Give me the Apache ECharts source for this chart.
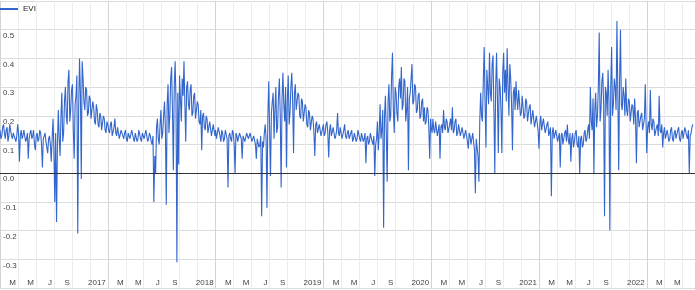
<!DOCTYPE html>
<html>
<head>
<meta charset="utf-8">
<script src="https://cdn.jsdelivr.net/npm/echarts@6/dist/echarts.min.js"></script>
<style>
html,body{margin:0;padding:0;background:#fff;}
#chart{width:695px;height:290px;}
</style>
</head>
<body>
<div id="chart"></div>
<script>
// EVI samples, one value every 3 days starting 1 January of each year
const seriesName = 'EVI';
const stepDays = 3;
const years = [2016, 2017, 2018, 2019, 2020, 2021, 2022];
const evi2016 = [
  0.15,0.12, 0.13,0.16, 0.17,0.14, 0.12,0.15, 0.16,0.11, 0.13,0.17, 0.15,0.13, 0.12,0.14, 0.14,0.12, 0.11,0.13,
  0.17,0.14, 0.04,0.13, 0.15,0.12, 0.13,0.15, 0.15,0.11, 0.12,0.14, 0.05,0.12, 0.14,0.15, 0.12,0.13, 0.15,0.10,
  0.08,0.13, 0.14,0.11, 0.12,0.15, 0.14,0.10, 0.02,0.12, 0.13,0.14, 0.11,0.09, 0.07,0.12, 0.13,0.10, 0.04,0.12,
  0.19,0.08, -0.10,0.14, -0.17,0.10, 0.22,0.12, 0.06,0.20, 0.28,0.11, 0.14,0.25, 0.30,0.20, 0.17,0.32, 0.36,0.18,
  0.22,0.29, 0.31,0.15, 0.05,0.24, 0.27,0.34, -0.21,0.22, 0.40,0.28, -0.02,0.39, 0.33,0.25, 0.22,0.30, 0.29,0.20,
  0.21,0.27, 0.26,0.19, 0.19,0.25, 0.23,0.18, 0.17,0.24, 0.22,0.17, 0.16,0.21, 0.20,0.15, 0.15,0.20, 0.19,0.15,
  0.14,0.18];
const evi2017 = [
  0.17,0.15, 0.14,0.17, 0.18,0.13, 0.13,0.16, 0.19,0.14, 0.13,0.16, 0.16,0.12, 0.12,0.15, 0.15,0.13, 0.12,0.14,
  0.15,0.12, 0.11,0.14, 0.14,0.12, 0.12,0.15, 0.15,0.12, 0.11,0.14, 0.14,0.11, 0.12,0.15, 0.15,0.12, 0.11,0.14,
  0.14,0.12, 0.12,0.15, 0.15,0.11, 0.12,0.14, 0.13,0.11, 0.10,0.13, -0.10,0.06, 0.00,0.16, 0.19,0.12, 0.10,0.17,
  0.22,0.12, 0.14,0.20, 0.25,0.16, -0.11,0.24, 0.31,0.14, 0.20,0.33, 0.37,0.22, 0.01,0.30, 0.39,0.25, -0.31,0.28,
  0.03,0.34, 0.26,0.18, 0.33,0.27, 0.39,0.24, 0.11,0.30, 0.32,0.24, 0.22,0.29, 0.31,0.20, 0.21,0.27, 0.28,0.19,
  0.19,0.25, 0.24,0.18, 0.17,0.22, 0.08,0.20, 0.21,0.16, 0.15,0.20, 0.19,0.14, 0.14,0.18, 0.18,0.13, 0.13,0.17,
  0.17,0.13];
const evi2018 = [
  0.15,0.12, 0.12,0.16, 0.16,0.13, 0.11,0.15, 0.14,0.11, 0.12,0.15, 0.15,0.12, -0.05,0.13, 0.14,0.12, 0.11,0.15,
  0.14,0.10, 0.00,0.14, 0.13,0.11, 0.11,0.14, 0.14,0.12, 0.05,0.13, 0.13,0.11, 0.11,0.14, 0.14,0.12, 0.12,0.14,
  0.14,0.11, 0.11,0.13, 0.13,0.10, 0.05,0.12, 0.12,0.09, 0.10,0.13, -0.15,0.11, 0.09,0.14, 0.17,0.12, -0.12,0.20,
  0.32,0.15, -0.01,0.21, 0.25,0.28, 0.12,0.22, 0.30,0.14, 0.16,0.27, 0.33,0.20, -0.05,0.26, 0.35,0.24, 0.18,0.30,
  0.02,0.26, 0.34,0.17, 0.21,0.30, 0.35,0.25, 0.07,0.28, 0.31,0.22, 0.22,0.28, 0.27,0.20, 0.19,0.26, 0.25,0.18,
  0.18,0.24, 0.23,0.17, 0.16,0.22, 0.21,0.15, 0.15,0.20, 0.19,0.14, 0.06,0.17, 0.18,0.14, 0.14,0.17, 0.17,0.13,
  0.13,0.16];
const evi2019 = [
  0.17,0.13, 0.14,0.17, 0.18,0.14, 0.055,0.15, 0.17,0.13, 0.13,0.16, 0.16,0.12, 0.13,0.15, 0.21,0.14, 0.13,0.16,
  0.16,0.12, 0.12,0.15, 0.17,0.13, 0.12,0.14, 0.15,0.12, 0.12,0.14, 0.15,0.11, 0.12,0.14, 0.14,0.11, 0.12,0.15,
  0.15,0.12, 0.11,0.14, 0.14,0.11, 0.12,0.14, 0.035,0.12, 0.13,0.10, 0.11,0.14, 0.14,0.11, 0.10,0.13, -0.01,0.10,
  0.12,0.18, 0.08,0.14, 0.24,0.12, 0.15,0.22, -0.19,0.20, 0.27,0.14, -0.03,0.25, 0.31,0.18, 0.20,0.34, 0.42,0.22,
  0.14,0.30, 0.28,0.21, 0.18,0.30, 0.33,0.26, 0.37,0.22, 0.24,0.33, 0.32,0.18, 0.22,0.30, 0.01,0.26, 0.28,0.33,
  0.38,0.24, 0.25,0.31, 0.30,0.21, 0.22,0.27, 0.28,0.19, 0.20,0.25, 0.26,0.18, 0.23,0.17, 0.18,0.23, 0.22,0.16,
  0.05,0.19];
const evi2020 = [
  0.16,0.14, 0.19,0.15, 0.14,0.18, 0.18,0.13, 0.15,0.17, 0.05,0.16, 0.17,0.14, 0.22,0.16, 0.15,0.19, 0.18,0.14,
  0.14,0.17, 0.19,0.15, 0.23,0.14, 0.15,0.18, 0.19,0.13, 0.14,0.17, 0.17,0.13, 0.13,0.16, 0.16,0.12, 0.12,0.15,
  0.15,0.11, 0.085,0.14, 0.13,0.10, 0.10,0.14, 0.14,0.08, -0.07,0.12, 0.12,0.06, -0.03,0.18, 0.28,0.20, 0.18,0.32,
  0.44,0.24, 0.09,0.36, 0.30,0.24, 0.42,0.28, 0.25,0.38, 0.41,0.22, 0.00,0.30, 0.42,0.26, 0.07,0.33, 0.30,0.22,
  0.07,0.35, 0.42,0.28, 0.36,0.25, 0.435,0.30, 0.20,0.38, 0.33,0.24, 0.08,0.28, 0.30,0.22, 0.32,0.26, 0.22,0.29,
  0.29,0.20, 0.21,0.27, 0.27,0.19, 0.20,0.26, 0.25,0.18, 0.18,0.23, 0.24,0.17, 0.17,0.22, 0.22,0.16, 0.16,0.20,
  0.20,0.15];
const evi2021 = [
  0.085,0.17, 0.20,0.15, 0.15,0.19, 0.19,0.14, 0.14,0.17, 0.18,0.13, 0.13,0.16, -0.08,0.14, 0.16,0.12, 0.12,0.15,
  0.15,0.11, 0.11,0.14, 0.02,0.13, 0.14,0.10, 0.10,0.14, 0.15,0.11, 0.17,0.12, 0.10,0.14, 0.04,0.12, 0.14,0.09,
  0.11,0.14, 0.15,0.10, 0.09,0.13, 0.00,0.12, 0.13,0.09, 0.10,0.14, 0.15,0.11, 0.12,0.15, 0.17,0.12, 0.30,0.18,
  0.15,0.26, 0.00,0.22, 0.28,0.16, 0.20,0.30, 0.49,0.18, 0.22,0.32, 0.35,0.24, -0.15,0.30, 0.28,0.20, 0.36,0.25,
  -0.20,0.30, 0.44,0.20, 0.24,0.33, 0.30,0.22, 0.53,0.28, 0.01,0.32, 0.50,0.24, 0.22,0.30, 0.27,0.20, 0.33,0.22,
  0.20,0.26, 0.25,0.18, 0.18,0.24, 0.23,0.17, 0.26,0.19, 0.035,0.21, 0.22,0.16, 0.16,0.20, 0.21,0.15, 0.15,0.19,
  0.31,0.16];
const evi2022 = [
  0.07,0.16, 0.18,0.14, 0.29,0.17, 0.15,0.19, 0.18,0.13, 0.13,0.16, 0.17,0.13, 0.27,0.15, 0.14,0.17, 0.09,0.14,
  0.16,0.12, 0.12,0.15, 0.15,0.11, 0.12,0.15, 0.16,0.12, 0.11,0.14, 0.15,0.12, 0.12,0.15, 0.16,0.12, 0.11,0.14,
  0.15,0.12, 0.12,0.16, 0.16,0.13, 0.12,0.15, 0.00,0.13, 0.14,0.16, 0.17];
const yearValues = [evi2016, evi2017, evi2018, evi2019, evi2020, evi2021, evi2022];
const monthLetters = ['J','F','M','A','M','J','J','A','S','O','N','D'];
const yTicks = [-0.3,-0.2,-0.1,0.0,0.1,0.2,0.3,0.4,0.5];

// x value = months elapsed since January 2016 (fractional)
const data = [];
years.forEach(function (y, k) {
  const daysInYear = (y % 4 === 0) ? 366 : 365;
  yearValues[k].forEach(function (v, i) {
    data.push([(y - years[0]) * 12 + i * stepDays * 12 / daysInYear, v]);
  });
});

const FONT = '"Liberation Sans", Arial, sans-serif';
const chart = echarts.init(document.getElementById('chart'), null, {renderer: 'canvas'});
chart.setOption({
  animation: false,
  backgroundColor: '#ffffff',
  textStyle: {fontFamily: FONT},
  legend: {
    left: 0, top: 5, padding: 0,
    icon: 'rect', itemWidth: 18, itemHeight: 2, itemGap: 10,
    textStyle: {fontFamily: FONT, fontSize: 8, color: '#222'},
    data: [seriesName]
  },
  grid: {left: 0, top: 1, width: 695, height: 287, containLabel: false},
  xAxis: {
    type: 'value', min: 0, max: 77.37, interval: 2,
    axisLine: {show: false}, axisTick: {show: false},
    splitLine: {show: true, lineStyle: {color: ['#d4d4d4','#ececec','#ececec','#ececec','#ececec','#ececec'], width: 1}},
    axisLabel: {
      inside: true, margin: 1, align: 'right', verticalAlign: 'bottom',
      padding: [0, 2, 0, 0],
      fontSize: 8, color: '#444', fontFamily: FONT,
      showMaxLabel: false, showMinLabel: false,
      formatter: function (v) {
        if (Math.abs(v - Math.round(v)) > 1e-6) return '';
        const m = Math.round(v) % 12;
        if (m === 0) return String(years[0] + Math.round(v) / 12);
        if (m === 10) return '';
        return monthLetters[m];
      }
    }
  },
  yAxis: {
    type: 'value', min: -0.4, max: 0.6, interval: 0.1,
    axisLine: {show: false}, axisTick: {show: false},
    splitLine: {show: true, lineStyle: {color: '#dcdcdc', width: 1}},
    axisLabel: {
      inside: true, margin: 3, align: 'left', verticalAlign: 'top',
      padding: [2, 0, 0, 0],
      fontSize: 8, color: '#444', fontFamily: FONT,
      formatter: function (v) {
        const r = Math.round(v * 10) / 10;
        for (let t of yTicks) { if (Math.abs(t - r) < 1e-6) return r.toFixed(1); }
        return '';
      }
    }
  },
  series: [{
    name: seriesName,
    type: 'line',
    data: data,
    showSymbol: false,
    symbol: 'none',
    sampling: null,
    color: '#3366cc',
    lineStyle: {color: '#3366cc', width: 1.1},
    markLine: {
      silent: true, symbol: ['none','none'],
      label: {show: false},
      lineStyle: {color: '#333', width: 1, type: 'solid'},
      data: [{yAxis: 0}]
    },
    z: 3
  }]
});
</script>
</body>
</html>
